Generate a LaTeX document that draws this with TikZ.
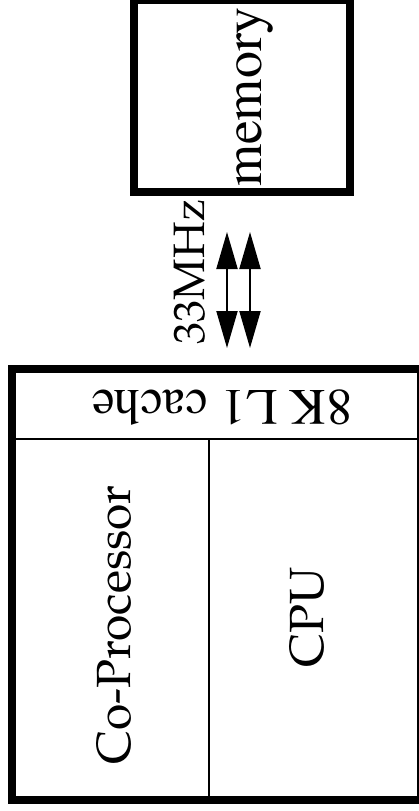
\documentclass[tikz,border=0pt]{standalone}
\usepackage[T1]{fontenc}
\usepackage{tikz}
\usetikzlibrary{arrows.meta}

\newcommand{\tmsfont}{\fontfamily{ptm}\selectfont}
\newcommand{\palfont}{\fontfamily{ppl}\selectfont}

\tikzset{
	thickbox/.style = {draw, line width = 8pt, inner sep = 0pt},
	thinpart/.style = {draw, line width = 1.5pt, inner sep = 0pt},
	busarrow/.style = {line width = 2pt, {Triangle[width = 21pt, length = 37pt]}-{Triangle[width = 21pt, length = 37pt]}},
}

\begin{document}
\begin{tikzpicture}[x = 1pt, y = -1pt]
			\def\W{419}
			\def\H{811}
			
			\useasboundingbox (0,0) rectangle (\W,\H);
			\clip (0,0) rectangle (\W,\H);
			
			% memory
			\node [thickbox, minimum width = 216pt, minimum height = 192pt] (memory) at (242,96) {};
			\node [rotate = 90, font = \tmsfont\fontsize{54}{58}\selectfont] (memlabel) at (255,97) {memory};
			
			% bus
			\coordinate (busAtop) at (227,232);
			\coordinate (busAbot) at (227,348);
			\coordinate (busBtop) at (250,232);
			\coordinate (busBbot) at (250,348);
			\draw [busarrow] (busAtop) -- (busAbot);
			\draw [busarrow] (busBtop) -- (busBbot);
			\node [rotate = 90, font = \palfont\fontsize{44}{48}\selectfont] (buslabel) at (190,272) {33MHz};
			
			% processor board
			\node [thinpart, minimum width = 409pt, minimum height = 70pt] (cache) at (216.5,404) {};
			\node [thinpart, minimum width = 197pt, minimum height = 361pt] (copro) at (110.5,619.5) {};
			\node [thinpart, minimum width = 212pt, minimum height = 361pt] (cpu) at (315,619.5) {};
			\node [thickbox, minimum width = 409pt, minimum height = 431pt] (board) at (216.5,584.5) {};
			
			\node [rotate = 180, font = \tmsfont\fontsize{51}{55}\selectfont] (cachelabel) at (222,408) {8K L1 cache};
			\node [rotate = 90, font = \palfont\fontsize{48}{52}\selectfont] (coprolabel) at (114,625) {Co-Processor};
			\node [rotate = 90, font = \palfont\fontsize{48}{52}\selectfont] (cpulabel) at (307,617) {CPU};
		\end{tikzpicture}
\end{document}
